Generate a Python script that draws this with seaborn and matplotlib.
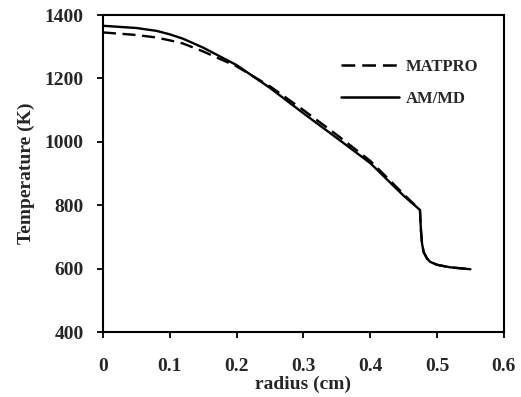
import matplotlib
matplotlib.use("Agg")
import matplotlib.pyplot as plt
import seaborn as sns
import pandas as pd

radius = [0.0, 0.05, 0.08, 0.10, 0.12, 0.15, 0.20, 0.25, 0.30, 0.35, 0.40, 0.45, 0.4745,
          0.475, 0.476, 0.4775, 0.48, 0.485, 0.49, 0.50, 0.52, 0.55]
am_md = [1366, 1359, 1350, 1339, 1325, 1297, 1242, 1170, 1090, 1012, 933, 830, 785,
         760, 720, 680, 652, 632, 621, 612, 604, 598]
matpro = [1345, 1337, 1329, 1320, 1310, 1285, 1238, 1175, 1100, 1022, 940, 835, 785,
          760, 720, 680, 652, 632, 621, 612, 604, 598]
series_names = ["MATPRO", "AM/MD"]
xticks = [0, 0.1, 0.2, 0.3, 0.4, 0.5, 0.6]
xtick_labels = ["0", "0.1", "0.2", "0.3", "0.4", "0.5", "0.6"]
yticks = [400, 600, 800, 1000, 1200, 1400]

df = pd.concat([
    pd.DataFrame({"radius": radius, "T": matpro, "model": series_names[0]}),
    pd.DataFrame({"radius": radius, "T": am_md, "model": series_names[1]}),
])

sns.set_style("white")
plt.rcParams["font.family"] = ["Liberation Serif", "DejaVu Serif"]

fig = plt.figure(figsize=(5.21, 3.97), dpi=100)
ax = fig.add_axes([0.1977, 0.1637, 0.7693, 0.7985])

sns.lineplot(data=df, x="radius", y="T", hue="model", style="model",
             palette={"MATPRO": "black", "AM/MD": "black"},
             dashes={"MATPRO": (5.5, 2.8), "AM/MD": ""},
             linewidth=1.7, ax=ax, sort=False, estimator=None)

ax.set_xlim(0, 0.6)
ax.set_ylim(400, 1400)
ax.set_xticks(xticks)
ax.set_xticklabels(xtick_labels)
ax.set_yticks(yticks)
for s in ax.spines.values():
    s.set_color("black")
    s.set_linewidth(1.5)
ax.tick_params(axis="both", direction="out", length=4, width=1.3, color="black",
               labelsize=14, bottom=True, left=True)
ax.tick_params(axis="x", pad=15)
ax.tick_params(axis="y", pad=10)
for lab in ax.get_xticklabels() + ax.get_yticklabels():
    lab.set_fontweight("bold")
ax.set_xlabel("radius (cm)", fontsize=14, fontweight="bold", labelpad=0)
ax.set_ylabel("Temperature (K)", fontsize=14, fontweight="bold", labelpad=7)

leg = ax.legend(loc="upper right", bbox_to_anchor=(0.975, 0.91), frameon=False,
                fontsize=12, handlelength=3.5, handletextpad=0.4, labelspacing=1.0)
for t in leg.get_texts():
    t.set_fontweight("bold")
for h in leg.get_lines():
    h.set_linewidth(1.8)

fig.savefig("out.png", dpi=100)
